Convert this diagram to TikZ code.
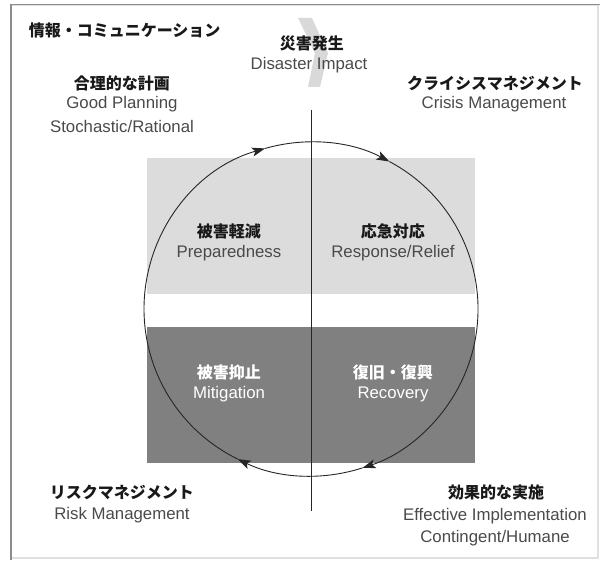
\documentclass[tikz,border=0pt]{standalone}
\usepackage{fontspec}
\setmainfont{Liberation Sans}
\newfontfamily\jp{Noto Sans CJK JP}
\usetikzlibrary{arrows.meta}

\definecolor{bandlight}{HTML}{DCDCDC}
\definecolor{banddark}{HTML}{808080}
\definecolor{txt}{HTML}{4A4A4A}

\begin{document}
\begin{tikzpicture}[
    x=1pt, y=1pt,
    >={Stealth[length=13pt,width=9pt,inset=3pt]},
    every node/.style={font=\fontsize{16.8}{18}\selectfont, text=txt},
    head/.style={font=\jp\bfseries\fontsize{16}{18}\selectfont, text=black!90},
    line width=0.9pt
]

\def\R{167pt}

\useasboundingbox (-311,-251) rectangle (289,309);

% frame
\draw[black!12, line width=1.2pt] (-300,304) -- (287,304) -- (287,-249) -- (-300,-249);
\draw[black!45, line width=1.8pt] (-300,-251) -- (-300,304.5) -- (289,304.5);

% bands
\fill[bandlight] (-164,15) rectangle (164,151);
\fill[banddark] (-164,-154) rectangle (164,-18);

% impact chevron
\fill[black!15] (-13,291) -- (1,291) -- (17,256) -- (9,222) -- (-3,222) -- (4,256) -- cycle;

\draw[black!85, line width=0.8pt] (0,199) -- (0,-202);

% Upper left
\draw[->, black!85] (180:\R) arc (180:106:\R);
% Upper right
\draw[->, black!85] (106:\R) arc (106:62:\R);
% Right half
\draw[->, black!85] (62:\R) arc (62:-72:\R);
% Lower half
\draw[->, black!85] (-72:\R) arc (-72:-116:\R);
\draw[black!85] (-116:\R) arc (-116:-180:\R);

\node[head, anchor=west] (info) at (-286,279) {情報・コミュニケーション};

\node[head] (impact) at (1,266) {災害発生};
\node (impactEn) at (-2,244) {Disaster Impact};

\node[head] (plan) at (-189,226) {合理的な計画};
\node (planEn) at (-189,205) {Good Planning};
\node (planSt) at (-189,183) {Stochastic/Rational};

\node[head] (crisis) at (184,226) {クライシスマネジメント};
\node (crisisEn) at (183,205) {Crisis Management};

\node[head] (prep) at (-82,78) {被害軽減};
\node (prepEn) at (-82,56) {Preparedness};
\node[head] (resp) at (82,78) {応急対応};
\node (respEn) at (82,56) {Response/Relief};

\node[head, text=white] (miti) at (-82,-63) {被害抑止};
\node[text=white] (mitiEn) at (-82,-85) {Mitigation};
\node[head, text=white] (reco) at (82,-63) {復旧・復興};
\node[text=white] (recoEn) at (82,-85) {Recovery};

\node[head] (risk) at (-189,-183) {リスクマネジメント};
\node (riskEn) at (-189,-206) {Risk Management};

\node[head] (impl) at (185,-183) {効果的な実施};
\node (implEn) at (184,-207) {Effective Implementation};
\node (implCo) at (184,-229) {Contingent/Humane};

\end{tikzpicture}
\end{document}
